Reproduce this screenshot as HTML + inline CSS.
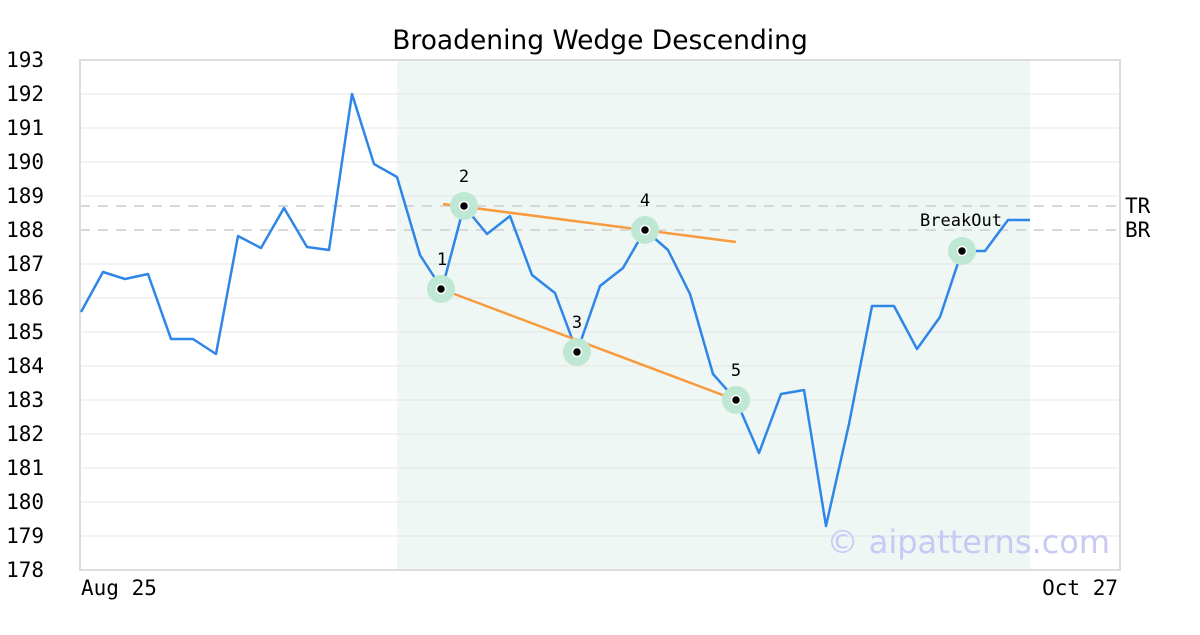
<!DOCTYPE html>
<html><head><meta charset="utf-8"><style>body{margin:0;background:#fff}</style></head><body>
<svg width="1200" height="630" xmlns="http://www.w3.org/2000/svg" font-family="DejaVu Sans Mono, Liberation Mono, monospace">
<rect width="1200" height="630" fill="#fff"/>
<rect x="397" y="60" width="633" height="510" fill="#eef7f3"/>
<g stroke="#e4e4e4" stroke-width="1">
<line x1="80" x2="1120" y1="94" y2="94"/><line x1="80" x2="1120" y1="128" y2="128"/><line x1="80" x2="1120" y1="162" y2="162"/><line x1="80" x2="1120" y1="196" y2="196"/><line x1="80" x2="1120" y1="264" y2="264"/><line x1="80" x2="1120" y1="298" y2="298"/><line x1="80" x2="1120" y1="332" y2="332"/><line x1="80" x2="1120" y1="366" y2="366"/><line x1="80" x2="1120" y1="400" y2="400"/><line x1="80" x2="1120" y1="434" y2="434"/><line x1="80" x2="1120" y1="468" y2="468"/><line x1="80" x2="1120" y1="502" y2="502"/><line x1="80" x2="1120" y1="536" y2="536"/>
</g>
<g stroke="#d8d8d8" stroke-width="2" stroke-dasharray="10,8">
<line x1="80" x2="1120" y1="206" y2="206"/><line x1="80" x2="1120" y1="230" y2="230"/>
</g>
<rect x="80" y="60" width="1040" height="510" fill="none" stroke="#dddddd" stroke-width="2"/>
<polyline fill="none" stroke="#2e86e8" stroke-width="2.5" stroke-linejoin="round" points="81,312 103,272 125,279 148,274 171,339 193,339 216,354 238,236 261,248 284,208 307,247 329,250 352,94 374,164 397,177 420,255 442,289 464,206 487,234 510,216 532,275 555,293 577,352 600,286 623,268 645,230 668,250 690,294 713,374 736,400 759,453 781,394 804,390 826,526 849,424 872,306 894,306 917,349 940,317 962,251 985,251 1008,220 1030,220"/>
<g stroke="#f89b3e" stroke-width="2.5">
<line x1="443" y1="204" x2="736" y2="242"/><line x1="441" y1="289" x2="736" y2="400"/>
</g>
<g fill="#bfe8d4"><circle cx="441" cy="289" r="14"/><circle cx="464" cy="206" r="14"/><circle cx="577" cy="352" r="14"/><circle cx="645" cy="230" r="14"/><circle cx="736" cy="400" r="14"/><circle cx="962" cy="251" r="14"/></g>
<g fill="#000" stroke="#fff" stroke-width="1.5"><circle cx="441" cy="289" r="4.5"/><circle cx="464" cy="206" r="4.5"/><circle cx="577" cy="352" r="4.5"/><circle cx="645" cy="230" r="4.5"/><circle cx="736" cy="400" r="4.5"/><circle cx="962" cy="251" r="4.5"/></g>
<g font-size="17" fill="#000" text-anchor="middle">
<text x="442" y="265">1</text><text x="464" y="182">2</text><text x="577" y="328">3</text><text x="645" y="206">4</text><text x="736" y="376">5</text><text x="961" y="226">BreakOut</text>
</g>
<g font-size="21" fill="#000" text-anchor="end">
<text x="44" y="67">193</text><text x="44" y="101">192</text><text x="44" y="135">191</text><text x="44" y="169">190</text><text x="44" y="203">189</text><text x="44" y="237">188</text><text x="44" y="271">187</text><text x="44" y="305">186</text><text x="44" y="339">185</text><text x="44" y="373">184</text><text x="44" y="407">183</text><text x="44" y="441">182</text><text x="44" y="475">181</text><text x="44" y="509">180</text><text x="44" y="543">179</text><text x="44" y="577">178</text>
</g>
<g font-size="21" fill="#000"><text x="1125" y="213">TR</text><text x="1125" y="237">BR</text>
<text x="81" y="595">Aug 25</text><text x="1118" y="595" text-anchor="end">Oct 27</text></g>
<text x="600" y="49" font-size="26.5" text-anchor="middle" font-family="DejaVu Sans, Liberation Sans, sans-serif">Broadening Wedge Descending</text>
<text x="1110" y="553" font-size="32" fill="#c9c9f5" text-anchor="end" font-family="DejaVu Sans, Liberation Sans, sans-serif">© aipatterns.com</text>
</svg>
</body></html>
